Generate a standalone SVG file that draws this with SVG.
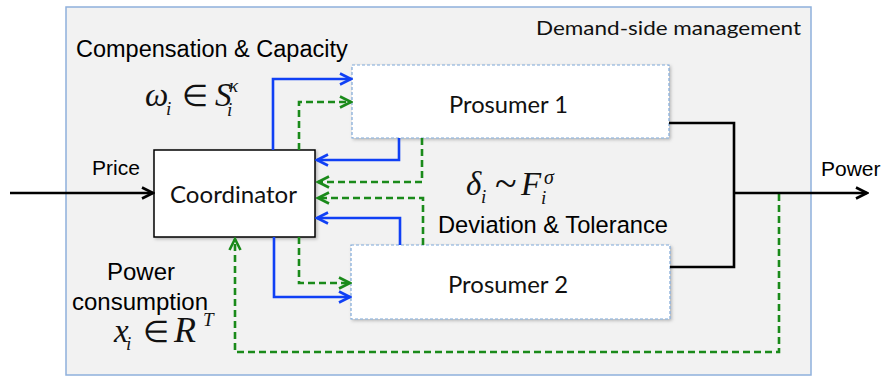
<svg xmlns="http://www.w3.org/2000/svg" width="885" height="376" viewBox="0 0 885 376">
<style>
.arial{font-family:"Liberation Sans",Arial,sans-serif;fill:#000}
.cal{font-family:Lato,"Open Sans",sans-serif;fill:#111}
.math{font-family:"Liberation Serif","Times New Roman",serif;font-style:italic;fill:#111}
.up{font-style:normal}
.elem{font-family:"DejaVu Sans",sans-serif;font-weight:200;font-style:normal}
.blue{fill:none;stroke:#1040f5;stroke-width:2.6}
.green{fill:none;stroke:#1a8a1a;stroke-width:2.6;stroke-dasharray:7 4}
.black{fill:none;stroke:#000;stroke-width:2.6}
.pros{fill:#fff;stroke:#7fa7d8;stroke-width:1.2;stroke-dasharray:3 2}
</style>
<defs>
<filter id="sh" x="-5%" y="-10%" width="115%" height="130%">
<feDropShadow dx="1.5" dy="1.5" stdDeviation="1.5" flood-color="#000" flood-opacity="0.25"/>
</filter>
<marker id="ab" viewBox="-13 -8 15 16" refX="0" refY="0" markerWidth="15" markerHeight="16" orient="auto" markerUnits="userSpaceOnUse">
<path d="M-11,-5.5 L0,0 L-11,5.5" fill="none" stroke="#1040f5" stroke-width="2.6" stroke-linejoin="miter"/>
</marker>
<marker id="ag" viewBox="-13 -8 15 16" refX="0" refY="0" markerWidth="15" markerHeight="16" orient="auto" markerUnits="userSpaceOnUse">
<path d="M-11,-5.5 L0,0 L-11,5.5" fill="none" stroke="#1a8a1a" stroke-width="2.6" stroke-linejoin="miter"/>
</marker>
<marker id="ak" viewBox="-13 -8 15 16" refX="0" refY="0" markerWidth="15" markerHeight="16" orient="auto" markerUnits="userSpaceOnUse">
<path d="M-11,-5.5 L0,0 L-11,5.5" fill="none" stroke="#000" stroke-width="2.6" stroke-linejoin="miter"/>
</marker>
</defs>

<g id="dsm">
<rect x="66" y="7" width="745" height="368" fill="#f2f2f2" stroke="#8eb0dc" stroke-width="1.5"/>
<text class="cal" x="536" y="35" font-size="18.5" textLength="265" lengthAdjust="spacingAndGlyphs">Demand-side management</text>
</g>

<g id="prosumer1">
<rect class="pros" x="352" y="65" width="317" height="73" filter="url(#sh)"/>
<text class="cal" x="449" y="113" font-size="23" textLength="119" lengthAdjust="spacingAndGlyphs">Prosumer 1</text>
</g>

<g id="prosumer2">
<rect class="pros" x="351" y="245" width="319" height="74" filter="url(#sh)"/>
<text class="cal" x="448" y="293" font-size="23" textLength="120" lengthAdjust="spacingAndGlyphs">Prosumer 2</text>
</g>

<g id="coordinator">
<rect x="154" y="150" width="161" height="87" fill="#fff" stroke="#000" stroke-width="1.5" filter="url(#sh)"/>
<text class="cal" x="170" y="203" font-size="23" textLength="127" lengthAdjust="spacingAndGlyphs">Coordinator</text>
</g>

<g id="connectors">
<path class="blue" d="M273,150 V79 H351" marker-end="url(#ab)"/>
<path class="green" d="M299,150 V102 H351" marker-end="url(#ag)"/>
<path class="blue" d="M399,138 V160 H317" marker-end="url(#ab)"/>
<path class="green" d="M422,138 V182 H318" marker-end="url(#ag)"/>
<path class="green" d="M423,245 V198 H318" marker-end="url(#ag)"/>
<path class="blue" d="M400,245 V218 H317" marker-end="url(#ab)"/>
<path class="green" d="M299,237 V283 H350" marker-end="url(#ag)"/>
<path class="blue" d="M274,237 V297 H350" marker-end="url(#ab)"/>
<path class="green" d="M779,194 V352 H235 V239" marker-end="url(#ag)"/>
<path class="black" d="M669,123 H734 V267 H670"/>
<path class="black" d="M734,193 H867" marker-end="url(#ak)"/>
<path class="black" d="M10,193 H153" marker-end="url(#ak)"/>
</g>

<g id="labels">
<text class="arial" x="76" y="57" font-size="23.5">Compensation &amp; Capacity</text>
<text class="arial" x="92" y="175" font-size="21">Price</text>
<text class="arial" x="821" y="176" font-size="21">Power</text>
<text class="arial" x="438" y="233" font-size="23.7">Deviation &amp; Tolerance</text>
<text class="arial" x="141" y="280" font-size="24" text-anchor="middle">Power</text>
<text class="arial" x="140" y="310" font-size="24" text-anchor="middle">consumption</text>
</g>

<g id="math-omega">
<text class="math" x="145" y="106" font-size="33">ω<tspan font-size="19" x="166" y="115">i</tspan><tspan class="elem" font-size="30" x="182" y="106">∈</tspan><tspan x="215" y="106">S</tspan><tspan font-size="19" x="229" y="92">κ</tspan><tspan font-size="19" x="227" y="116">i</tspan></text>
</g>

<g id="math-delta">
<text class="math" x="466" y="195" font-size="33">δ<tspan font-size="19" x="481" y="203">i</tspan><tspan class="up" font-size="40" x="495" y="197">~</tspan><tspan x="521" y="195">F</tspan><tspan font-size="20" x="544" y="184">σ</tspan><tspan font-size="19" x="541" y="204">i</tspan></text>
</g>

<g id="math-x">
<text class="math" x="114" y="342" font-size="33">x<tspan font-size="19" x="126" y="350">i</tspan><tspan class="elem" font-size="30" x="143" y="342">∈</tspan><tspan font-size="36" x="174" y="342">R</tspan><tspan font-size="19" x="203" y="326">T</tspan></text>
</g>
</svg>
